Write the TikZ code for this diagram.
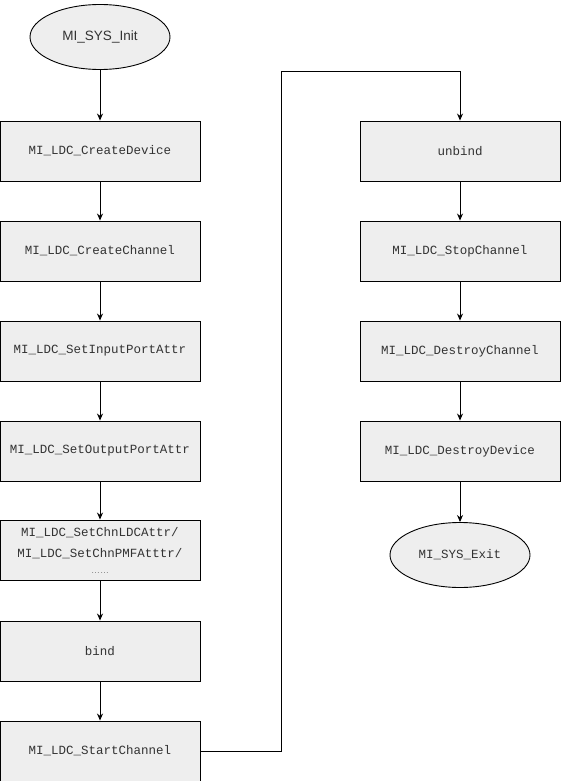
\documentclass[tikz,border=0pt]{standalone}
\usepackage{fontspec}
\usepackage{tikz}
\usetikzlibrary{shapes.geometric, arrows.meta, positioning}
\setmainfont{Liberation Sans}
\setmonofont{Liberation Mono}
\definecolor{boxfill}{HTML}{EEEEEE}
\definecolor{boxtext}{HTML}{333333}

\begin{document}
\begin{tikzpicture}[
  x=1pt, y=-1pt,
  box/.style={draw, line width=0.9pt, fill=boxfill, rectangle, minimum height=60pt, minimum width=200pt, align=center, text=boxtext, font=\ttfamily\fontsize{12.5}{21}\selectfont, inner sep=0pt},
  term/.style={draw, line width=0.9pt, fill=boxfill, ellipse, minimum height=65pt, minimum width=140pt, inner sep=0pt, text=boxtext},
  flow/.style={line width=0.9pt, -{Stealth[length=7pt, width=6pt]}}
]
\useasboundingbox (0,0) rectangle (561,781);

% left column
\node[term, font=\fontsize{13.5}{16}\selectfont] (init) at (100,37) {MI\_SYS\_Init};
\node[box] (create) at (100,151) {MI\_LDC\_CreateDevice};
\node[box] (chan) at (100,251) {MI\_LDC\_CreateChannel};
\node[box] (inport) at (100,351) {MI\_LDC\_SetInputPortAttr};
\node[box] (outport) at (100,451) {MI\_LDC\_SetOutputPortAttr};
\node[box] (chnattr) at (100,550) {MI\_LDC\_SetChnLDCAttr/\\MI\_LDC\_SetChnPMFAtttr/\\[-5pt]{\rmfamily\fontsize{9}{10}\selectfont\textcolor{gray}{……}}};
\node[box] (bind) at (100,651) {bind};
\node[box] (start) at (100,751) {MI\_LDC\_StartChannel};

% right column
\node[box] (unbind) at (460,151) {unbind};
\node[box] (stop) at (460,251) {MI\_LDC\_StopChannel};
\node[box] (dchan) at (460,351) {MI\_LDC\_DestroyChannel};
\node[box] (ddev) at (460,451) {MI\_LDC\_DestroyDevice};
\node[term, font=\ttfamily\fontsize{12.5}{15}\selectfont] (exit) at (460,555) {MI\_SYS\_Exit};

\coordinate (up1) at (281,751);
\coordinate (up2) at (281,71);
\coordinate (up3) at (460,71);

\draw[flow] (init) -- (create);
\draw[flow] (create) -- (chan);
\draw[flow] (chan) -- (inport);
\draw[flow] (inport) -- (outport);
\draw[flow] (outport) -- (chnattr.north);
\draw[flow] (chnattr.south) -- (bind);
\draw[flow] (bind) -- (start);
\draw[flow] (start.east) -- (up1) -- (up2) -- (up3) -- (unbind.north);
\draw[flow] (unbind) -- (stop);
\draw[flow] (stop) -- (dchan);
\draw[flow] (dchan) -- (ddev);
\draw[flow] (ddev) -- (exit);

\end{tikzpicture}
\end{document}
